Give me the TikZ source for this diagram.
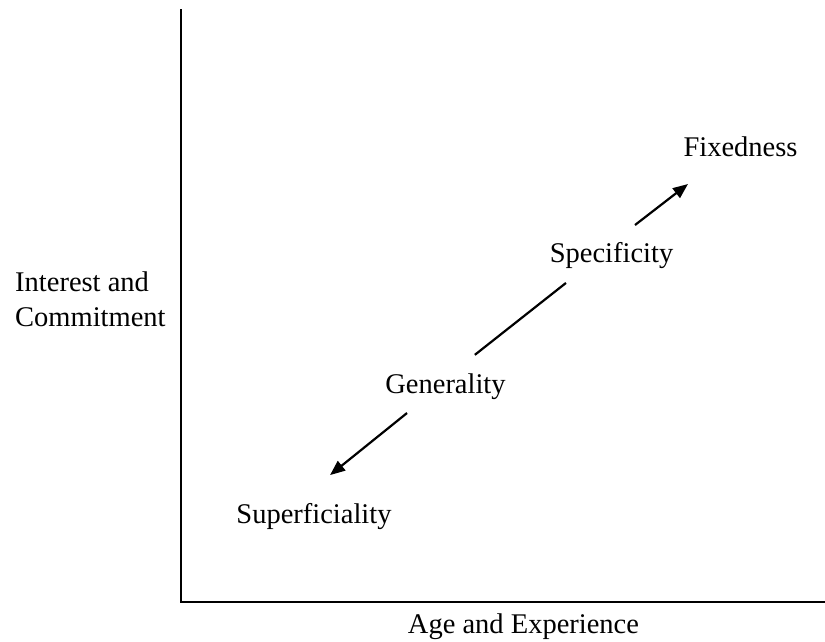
\documentclass[tikz,border=0pt]{standalone}
\usepackage{fontspec}
\setmainfont{Liberation Serif}
\usetikzlibrary{arrows.meta}
\begin{document}
\begin{tikzpicture}[x=1pt,y=-1pt,
        lbl/.style={inner sep=0pt,font=\fontsize{28.5}{35}\selectfont},
        axis/.style={line width=2.6pt,line cap=rect},
        conn/.style={line width=2.2pt},
        arr/.style={conn,-{Triangle[length=15pt,width=12pt]}}]
        \useasboundingbox (0,0) rectangle (825,641);

        \coordinate (ytop) at (181,10);
        \coordinate (origin) at (181,602);
        \coordinate (xend) at (825,602);
        \draw[axis] (ytop) -- (origin) -- (xend);

        \node[lbl,anchor=west,align=left] (ylabel) at (15,299) {Interest and\\Commitment};
        \node[lbl,anchor=base] (xlabel) at (523.5,633) {Age and Experience};

        \node[lbl,anchor=base] (sup) at (314,523) {Superficiality};
        \node[lbl,anchor=base] (gen) at (445.5,393) {Generality};
        \node[lbl,anchor=base] (spec) at (611.5,262) {Specificity};
        \node[lbl,anchor=base] (fix) at (740.5,156) {Fixedness};

        \draw[arr, shorten <=49.4pt, shorten >=20.6pt] ([yshift=11pt]gen.base) -- ([yshift=35pt]sup.base);
        \draw[conn, shorten <=37.4pt, shorten >=58pt] ([yshift=15pt]gen.base) -- ([yshift=15pt]spec.base);
        \draw[arr, shorten <=29.7pt, shorten >=66.4pt] ([yshift=18.8pt]spec.base) -- ([yshift=12.6pt]fix.base);
    \end{tikzpicture}
\end{document}
